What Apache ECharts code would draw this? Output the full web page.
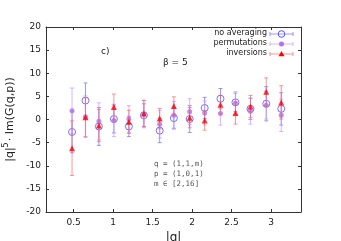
<!DOCTYPE html>
<html><head><meta charset="utf-8">
<script src="https://cdn.jsdelivr.net/npm/echarts@6/dist/echarts.min.js"></script>
<style>html,body{margin:0;padding:0;background:#fff}#c{width:341px;height:241px}</style>
</head><body><div id="c"></div>
<script>
const qAbs = [0.48, 0.65, 0.82, 1.01, 1.20, 1.39, 1.59, 1.77, 1.97, 2.16, 2.36, 2.55, 2.74, 2.94, 3.13];
const noAvg    = [-2.7, 4.1, -1.5, 0.1, -1.5, 0.9, -2.4, 0.3, 0.1, 2.5, 4.5, 3.7, 2.3, 3.4, 2.3];
const noAvgErr = [4.5, 3.8, 4.1, 3.0, 2.2, 2.5, 2.6, 2.2, 2.9, 2.3, 2.2, 2.0, 2.3, 3.7, 3.5];
const perm     = [1.9, 0.6, -0.4, -0.2, 0.1, 1.2, -1.0, 0.9, 1.7, 1.4, 1.3, 3.5, 1.8, 3.1, 0.9];
const permErr  = [4.9, 4.5, 4.0, 3.5, 2.9, 3.0, 3.0, 3.0, 2.8, 2.6, 2.5, 2.5, 2.8, 3.0, 3.5];
const inv      = [-6.2, 0.5, -1.3, 2.7, -0.5, 1.3, 0.2, 2.9, 0.4, -0.2, 3.2, 1.4, 2.8, 6.0, 3.7];
const invErr   = [5.9, 4.2, 3.5, 2.8, 2.5, 2.8, 2.2, 2.0, 2.2, 2.1, 2.0, 2.4, 2.4, 3.0, 3.6];
const xTickVals = [0.5, 1, 1.5, 2, 2.5, 3];
const seriesNames = ['no averaging', 'permutations', 'inversions'];
const annotLines = ['q = (1,1,m)', 'p = (1,0,1)', 'm \u2208 [2,16]'];

const barColors = ['rgba(110,110,255,0.7)', 'rgba(200,150,255,0.7)', 'rgba(255,90,90,0.65)'];
const markColors = ['#5050ff', '#b070f0', '#ff0000'];

function errBar(color) {
  return function (params, api) {
    const x = api.value(0), y = api.value(1), e = api.value(2);
    const lo = api.coord([x, y - e]), hi = api.coord([x, y + e]);
    const c = 2, st = {stroke: color, lineWidth: 1};
    return {type: 'group', children: [
      {type: 'line', shape: {x1: lo[0], y1: lo[1], x2: hi[0], y2: hi[1]}, style: st},
      {type: 'line', shape: {x1: lo[0] - c, y1: lo[1], x2: lo[0] + c, y2: lo[1]}, style: st},
      {type: 'line', shape: {x1: hi[0] - c, y1: hi[1], x2: hi[0] + c, y2: hi[1]}, style: st}
    ]};
  };
}
const pts = (v) => qAbs.map((x, i) => [x, v[i]]);
const errs = (v, e) => qAbs.map((x, i) => [x, v[i], e[i]]);

// legend built as graphics
const legX1 = 270, legX2 = 293, legMid = 281.5, legY0 = 34, legDy = 10;
const legendGraphics = [];
seriesNames.forEach((name, i) => {
  const y = legY0 + i * legDy;
  const st = {stroke: barColors[i], lineWidth: 1};
  legendGraphics.push(
    {type: 'text', right: 341 - 267, top: y - 5, style: {text: name, fontSize: 8, fill: '#222', fontFamily: 'DejaVu Sans', textAlign: 'right'}},
    {type: 'line', shape: {x1: legX1, y1: y, x2: legX2, y2: y}, style: st},
    {type: 'line', shape: {x1: legX1, y1: y - 2, x2: legX1, y2: y + 2}, style: st},
    {type: 'line', shape: {x1: legX2, y1: y - 2, x2: legX2, y2: y + 2}, style: st}
  );
  if (i === 0) legendGraphics.push({type: 'circle', shape: {cx: legMid, cy: y, r: 3.3}, style: {fill: 'none', stroke: markColors[0], lineWidth: 1}});
  if (i === 1) legendGraphics.push({type: 'circle', shape: {cx: legMid, cy: y, r: 2.5}, style: {fill: markColors[1]}});
  if (i === 2) legendGraphics.push({type: 'polygon', shape: {points: [[legMid - 3, y + 2.2], [legMid + 3, y + 2.2], [legMid, y - 3]]}, style: {fill: markColors[2]}});
});

const frame = '#333';
const option = {
  animation: false,
  grid: {left: 46, top: 27, right: 40, bottom: 29, outerBoundsMode: 'none', containLabel: false},
  xAxis: [{
    type: 'value', min: 0.15, max: 3.38, position: 'bottom',
    axisLine: {show: true, onZero: false, lineStyle: {color: frame}},
    axisTick: {show: true, inside: true, length: 3, customValues: xTickVals, lineStyle: {color: frame}},
    axisLabel: {customValues: xTickVals, fontSize: 9, color: '#222', fontFamily: 'DejaVu Sans', margin: 6},
    splitLine: {show: false},
    name: '|q|', nameLocation: 'middle', nameGap: 14,
    nameTextStyle: {fontSize: 12, color: '#222', fontFamily: 'DejaVu Sans'}
  }, {
    type: 'value', min: 0.15, max: 3.38, position: 'top',
    axisLine: {show: true, onZero: false, lineStyle: {color: frame}},
    axisTick: {show: true, inside: true, length: 3, customValues: xTickVals, lineStyle: {color: frame}},
    axisLabel: {show: false}, splitLine: {show: false}
  }],
  yAxis: [{
    type: 'value', min: -20, max: 20, interval: 5, position: 'left',
    axisLine: {show: true, onZero: false, lineStyle: {color: frame}},
    axisTick: {show: true, inside: true, length: 3, lineStyle: {color: frame}},
    axisLabel: {fontSize: 9, color: '#222', fontFamily: 'DejaVu Sans', margin: 5},
    splitLine: {show: false},
    name: '|q|{s|5}\u00b7 Im(G(q,p))', nameLocation: 'middle', nameGap: 23,
    nameTextStyle: {fontSize: 11, color: '#222', fontFamily: 'DejaVu Sans',
      rich: {s: {fontSize: 8, fontFamily: 'DejaVu Sans', color: '#222', padding: [0, 1, 7, 0]}}}
  }, {
    type: 'value', min: -20, max: 20, interval: 5, position: 'right',
    axisLine: {show: true, onZero: false, lineStyle: {color: frame}},
    axisTick: {show: true, inside: true, length: 3, lineStyle: {color: frame}},
    axisLabel: {show: false}, splitLine: {show: false}
  }],
  series: [
    {type: 'custom', renderItem: errBar(barColors[0]), data: errs(noAvg, noAvgErr), encode: {x: 0, y: 1}, z: 1, silent: true},
    {type: 'scatter', name: seriesNames[0], data: pts(noAvg), symbol: 'circle', symbolSize: 7, z: 2,
      itemStyle: {color: 'rgba(255,255,255,0)', borderColor: markColors[0], borderWidth: 1}},
    {type: 'custom', renderItem: errBar(barColors[1]), data: errs(perm, permErr), encode: {x: 0, y: 1}, z: 3, silent: true},
    {type: 'scatter', name: seriesNames[1], data: pts(perm), symbol: 'circle', symbolSize: 5, z: 4,
      itemStyle: {color: markColors[1]}},
    {type: 'custom', renderItem: errBar(barColors[2]), data: errs(inv, invErr), encode: {x: 0, y: 1}, z: 5, silent: true},
    {type: 'scatter', name: seriesNames[2], data: pts(inv), symbol: 'triangle', symbolSize: 6, z: 6,
      itemStyle: {color: markColors[2]}}
  ],
  graphic: [
    {type: 'text', left: 101, top: 47, style: {text: 'c)', fontSize: 9, fill: '#222', fontFamily: 'DejaVu Sans'}},
    {type: 'text', left: 163, top: 58, style: {text: '\u03b2 = 5', fontSize: 9, fill: '#222', fontFamily: 'DejaVu Sans'}},
    {type: 'text', left: 154, top: 159, style: {text: annotLines.join('\n'), fontSize: 7.5, lineHeight: 10, fill: '#555', fontFamily: 'DejaVu Sans Mono'}}
  ].concat(legendGraphics)
};
echarts.init(document.getElementById('c'), null, {renderer: 'canvas'}).setOption(option);
</script></body></html>
